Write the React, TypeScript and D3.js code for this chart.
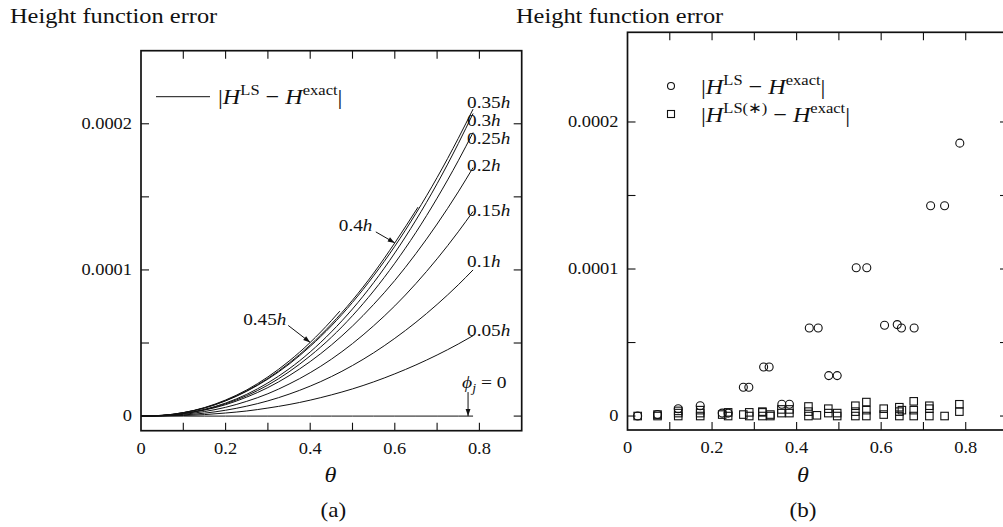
import React from "react";
import * as d3 from "d3";

// ---------- data (values in units of 1e-4) ----------
const thetaGrid = [0, 0.05, 0.1, 0.15, 0.2, 0.25, 0.3, 0.35, 0.4, 0.45, 0.5, 0.55, 0.6, 0.65, 0.7, 0.75, 0.785];
const err000 = [0, 0, 0, 0, 0, 0, 0, 0, 0, 0, 0, 0, 0, 0, 0, 0, 0];
const err005 = [0, 0.001, 0.004, 0.010, 0.021, 0.035, 0.055, 0.079, 0.109, 0.145, 0.186, 0.234, 0.289, 0.350, 0.418, 0.493, 0.550];
const err010 = [0, 0.002, 0.008, 0.020, 0.040, 0.068, 0.104, 0.150, 0.205, 0.270, 0.346, 0.433, 0.532, 0.642, 0.764, 0.898, 1.000];
const err015 = [0, 0.002, 0.012, 0.031, 0.060, 0.101, 0.153, 0.219, 0.297, 0.389, 0.496, 0.618, 0.754, 0.907, 1.076, 1.261, 1.400];
const err020 = [0, 0.003, 0.017, 0.041, 0.078, 0.130, 0.195, 0.276, 0.373, 0.486, 0.616, 0.764, 0.928, 1.112, 1.314, 1.534, 1.700];
const err025 = [0, 0.004, 0.017, 0.043, 0.084, 0.140, 0.212, 0.303, 0.412, 0.539, 0.687, 0.856, 1.046, 1.257, 1.491, 1.747, 1.940];
const err030 = [0, 0.004, 0.018, 0.046, 0.089, 0.149, 0.227, 0.323, 0.439, 0.576, 0.733, 0.913, 1.116, 1.341, 1.590, 1.864, 2.070];
const err035 = [0, 0.005, 0.023, 0.055, 0.104, 0.170, 0.253, 0.355, 0.477, 0.617, 0.778, 0.960, 1.162, 1.387, 1.632, 1.900, 2.100];
const theta040 = [0, 0.05, 0.1, 0.15, 0.2, 0.25, 0.3, 0.35, 0.4, 0.45, 0.5, 0.55, 0.6, 0.655];
const err040 = [0, 0.005, 0.023, 0.056, 0.106, 0.173, 0.258, 0.362, 0.486, 0.629, 0.793, 0.978, 1.185, 1.430];
const theta045 = [0, 0.05, 0.1, 0.15, 0.2, 0.25, 0.3, 0.35, 0.4, 0.45, 0.47];
const err045 = [0, 0.005, 0.024, 0.058, 0.110, 0.179, 0.268, 0.376, 0.504, 0.653, 0.718];

const phiLabels = ["0", "0.05h", "0.1h", "0.15h", "0.2h", "0.25h", "0.3h", "0.35h", "0.4h", "0.45h"];

// panel (b): |H^LS - H^exact| (circles)
const circleTheta = [0.024, 0.071, 0.120, 0.172, 0.224, 0.238, 0.274, 0.287, 0.322, 0.335, 0.365, 0.383, 0.430, 0.451, 0.476, 0.496, 0.541, 0.566, 0.608, 0.638, 0.648, 0.678, 0.717, 0.750, 0.786];
const circleErr = [0.0, 0.01, 0.05, 0.07, 0.02, 0.02, 0.196, 0.196, 0.333, 0.333, 0.08, 0.08, 0.599, 0.599, 0.275, 0.275, 1.009, 1.009, 0.617, 0.622, 0.599, 0.599, 1.430, 1.430, 1.856];
// panel (b): |H^LS(*) - H^exact| (squares)
const squareTheta = [0.024, 0.071, 0.071, 0.120, 0.120, 0.120, 0.172, 0.172, 0.172, 0.224, 0.238, 0.238, 0.274, 0.288, 0.288, 0.319, 0.319, 0.319, 0.338, 0.338, 0.364, 0.364, 0.383, 0.383, 0.428, 0.428, 0.428, 0.448, 0.475, 0.475, 0.496, 0.496, 0.539, 0.539, 0.539, 0.565, 0.565, 0.565, 0.606, 0.606, 0.643, 0.643, 0.643, 0.649, 0.677, 0.677, 0.677, 0.714, 0.714, 0.714, 0.750, 0.785, 0.785];
const squareErr = [0, 0, 0.01, 0, 0.02, 0.035, 0, 0.02, 0.04, 0.01, 0, 0.025, 0.01, 0, 0.025, 0, 0.025, 0.03, 0, 0.01, 0.02, 0.045, 0.02, 0.045, 0, 0.03, 0.065, 0.005, 0.02, 0.05, 0, 0.02, 0, 0.03, 0.07, 0, 0.04, 0.095, 0.01, 0.05, 0, 0.03, 0.06, 0.04, 0, 0.04, 0.1, 0, 0.05, 0.07, 0, 0.03, 0.08];

const xTicks = [0, 0.1, 0.2, 0.3, 0.4, 0.5, 0.6, 0.7, 0.8, 0.9];
const xTickLabels = ["0", "0.2", "0.4", "0.6", "0.8"];
const yTicks = [0, 0.00005, 0.0001, 0.00015, 0.0002];
const yTickLabels = ["0", "0.0001", "0.0002"];

const FONT = "'Liberation Serif','Times New Roman',serif";
const SC = 1e-4;

function ST({ x, y, size = 16, sx = 1.15, anchor = "start", italic = false, children }: any) {
  return (
    <g transform={`translate(${x},${y}) scale(${sx},1)`}>
      <text x={0} y={0} fontSize={size} fontFamily={FONT} textAnchor={anchor} fontStyle={italic ? "italic" : "normal"} fill="#111">
        {children}
      </text>
    </g>
  );
}

function Frame({ xs, ys, x0, x1, yTop, yBot }: any) {
  const tl = 8;
  return (
    <g stroke="#111" fill="none">
      <rect x={x0} y={yTop} width={x1 - x0} height={yBot - yTop} strokeWidth={1.7} />
      {xTicks.filter((t) => t > 0 && xs(t) < x1 - 1).map((t) => (
        <g key={"xt" + t} strokeWidth={1.1}>
          <line x1={xs(t)} x2={xs(t)} y1={yBot} y2={yBot - tl} />
          <line x1={xs(t)} x2={xs(t)} y1={yTop} y2={yTop + tl} />
        </g>
      ))}
      {yTicks.map((t) => (
        <g key={"yt" + t} strokeWidth={1.1}>
          <line x1={x0} x2={x0 + tl} y1={ys(t)} y2={ys(t)} />
          <line x1={x1} x2={x1 - tl} y1={ys(t)} y2={ys(t)} />
        </g>
      ))}
    </g>
  );
}

function TickLabels({ xs, ys, x0, yBot }: any) {
  return (
    <g>
      {xTickLabels.map((l) => (
        <ST key={"xl" + l} x={xs(+l)} y={yBot + 23} anchor="middle" size={16}>{l}</ST>
      ))}
      {yTickLabels.map((l) => (
        <ST key={"yl" + l} x={x0 - 9} y={ys(+l) + 5} anchor="end" size={16}>{l}</ST>
      ))}
    </g>
  );
}

function AbsLegend({ x, y, star }: any) {
  const sup = { fontSize: 15 };
  return (
    <ST x={x} y={y} size={22} sx={1.1}>
      <tspan>|</tspan>
      <tspan fontStyle="italic">H</tspan>
      <tspan dy={-9} {...sup}>{star ? "LS(∗)" : "LS"}</tspan>
      <tspan dy={9}> − </tspan>
      <tspan fontStyle="italic">H</tspan>
      <tspan dy={-9} {...sup}>exact</tspan>
      <tspan dy={9}>|</tspan>
    </ST>
  );
}

export default function App() {
  // panel (a)
  const A = { x0: 141, x1: 521.7, yTop: 50.7, yBot: 430.7 };
  const xa = d3.scaleLinear().domain([0, 0.9]).range([A.x0, A.x1]);
  const ya = d3.scaleLinear().domain([-0.00001, 0.00025]).range([A.yBot, A.yTop]);
  // panel (b)
  const B = { x0: 627.5, x1: 1008, yTop: 32.3, yBot: 430 };
  const xb = d3.scaleLinear().domain([0, 0.9]).range([B.x0, B.x1]);
  const yb = d3.scaleLinear().domain([-0.0000095, 0.000261]).range([B.yBot, B.yTop]);

  const curves = [
    { th: thetaGrid, v: err000 },
    { th: thetaGrid, v: err005 },
    { th: thetaGrid, v: err010 },
    { th: thetaGrid, v: err015 },
    { th: thetaGrid, v: err020 },
    { th: thetaGrid, v: err025 },
    { th: thetaGrid, v: err030 },
    { th: thetaGrid, v: err035 },
    { th: theta040, v: err040 },
    { th: theta045, v: err045 },
  ];
  const line = d3
    .line<[number, number]>()
    .x((d) => xa(d[0]))
    .y((d) => ya(d[1] * SC))
    .curve(d3.curveMonotoneX);

  // label baseline offsets relative to curve end (layout only)
  const labelDy = [0, 0, -3, 5, 3, 11, 12, -1];

  const end = (i: number) => {
    const c = curves[i];
    const n = c.th.length - 1;
    return [xa(c.th[n]), ya(c.v[n] * SC)];
  };
  const at = (i: number, k: number) => [xa(curves[i].th[k]), ya(curves[i].v[k] * SC)];
  const tip40 = at(8, 12);
  const tip45 = at(9, 8);
  const zeroEnd = end(0);

  const sq = 7.5;
  const legX = 671;

  return (
    <svg width={1003} height={527} style={{ position: "absolute", left: 0, top: 0, background: "#fff" }}>
      <defs>
        <marker id="ah" viewBox="0 0 10 10" refX={10} refY={5} markerWidth={9} markerHeight={7} orient="auto" markerUnits="userSpaceOnUse">
          <path d="M0,1.5 L10,5 L0,8.5 Z" fill="#111" />
        </marker>
      </defs>
      <rect x={0} y={0} width={1003} height={527} fill="#fff" />

      {/* ---------- panel (a) ---------- */}
      <ST x={10} y={23} size={20} sx={1.22}>Height function error</ST>
      <Frame xs={xa} ys={ya} {...A} />
      <TickLabels xs={xa} ys={ya} x0={A.x0} yBot={A.yBot} />
      <g fill="none" stroke="#111" strokeWidth={1}>
        {curves.map((c, i) => (
          <path key={"c" + i} d={line(c.th.map((t, k) => [t, c.v[k]] as [number, number])) || ""} />
        ))}
      </g>
      {phiLabels.slice(1, 8).map((l, j) => {
        const i = j + 1;
        const [ex, ey] = end(i);
        const num = l.replace("h", "");
        return (
          <ST key={"pl" + l} x={ex - 6} y={ey + labelDy[i]} size={16} sx={1.2}>
            {num}
            <tspan fontStyle="italic">h</tspan>
          </ST>
        );
      })}
      {/* 0.4h annotation */}
      <line x1={tip40[0] - 19} y1={tip40[1] - 11} x2={tip40[0]} y2={tip40[1]} stroke="#111" strokeWidth={1} markerEnd="url(#ah)" />
      <ST x={tip40[0] - 56} y={tip40[1] - 12} size={16} sx={1.2}>
        0.4<tspan fontStyle="italic">h</tspan>
      </ST>
      {/* 0.45h annotation */}
      <line x1={tip45[0] - 22} y1={tip45[1] - 17} x2={tip45[0]} y2={tip45[1]} stroke="#111" strokeWidth={1} markerEnd="url(#ah)" />
      <ST x={tip45[0] - 67} y={tip45[1] - 17} size={16} sx={1.2}>
        0.45<tspan fontStyle="italic">h</tspan>
      </ST>
      {/* phi_j = 0 annotation */}
      <line x1={zeroEnd[0] - 5} y1={zeroEnd[1] - 24} x2={zeroEnd[0] - 5} y2={zeroEnd[1]} stroke="#111" strokeWidth={1} markerEnd="url(#ah)" />
      <ST x={zeroEnd[0] - 11} y={zeroEnd[1] - 28} size={17} sx={1.15}>
        <tspan fontStyle="italic">ϕ</tspan>
        <tspan fontStyle="italic" fontSize={12} dy={4}>j</tspan>
        <tspan dy={-4}> = {phiLabels[0]}</tspan>
      </ST>
      {/* legend (a) */}
      <line x1={156} x2={210} y1={96.7} y2={96.7} stroke="#111" strokeWidth={1} />
      <AbsLegend x={218} y={104} />
      <ST x={(A.x0 + A.x1) / 2 - 1} y={482} size={22} sx={1.1} anchor="middle" italic>θ</ST>
      <ST x={(A.x0 + A.x1) / 2 + 2} y={517} size={21} sx={1.1} anchor="middle">(a)</ST>

      {/* ---------- panel (b) ---------- */}
      <ST x={516} y={23} size={20} sx={1.22}>Height function error</ST>
      <Frame xs={xb} ys={yb} {...B} />
      <TickLabels xs={xb} ys={yb} x0={B.x0} yBot={B.yBot} />
      <g fill="none" stroke="#111" strokeWidth={1.1}>
        {circleTheta.map((t, i) => (
          <circle key={"ci" + i} cx={xb(t)} cy={yb(circleErr[i] * SC)} r={4} />
        ))}
        {squareTheta.map((t, i) => (
          <rect key={"sq" + i} x={xb(t) - sq / 2} y={yb(squareErr[i] * SC) - sq / 2} width={sq} height={sq} />
        ))}
        <circle cx={legX} cy={86} r={3.5} />
        <rect x={legX - 3.5} y={114 - 3.5} width={7} height={7} />
      </g>
      <AbsLegend x={legX + 30} y={94} />
      <AbsLegend x={legX + 30} y={122} star />
      <ST x={803} y={482} size={22} sx={1.1} anchor="middle" italic>θ</ST>
      <ST x={803} y={517} size={21} sx={1.1} anchor="middle">(b)</ST>
    </svg>
  );
}
